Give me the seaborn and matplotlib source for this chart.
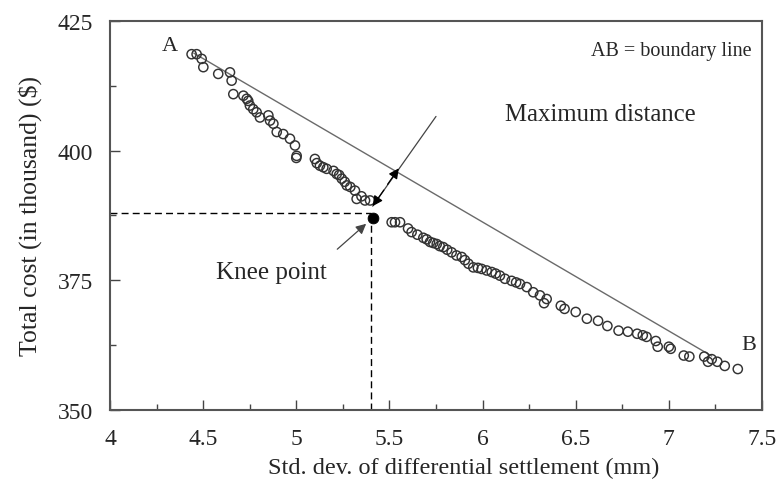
import matplotlib
matplotlib.use("Agg")
import matplotlib.pyplot as plt
import seaborn as sns
import pandas as pd
from matplotlib.ticker import MultipleLocator

# ---- data ----
std_dev = [
    4.438, 4.465, 4.492, 4.501, 4.581, 4.644, 4.653, 4.662, 4.716, 4.734,
    4.742, 4.751, 4.769, 4.787, 4.805, 4.850, 4.859, 4.877, 4.895, 4.930,
    4.966, 4.993, 5.002, 5.000,
    5.100, 5.110, 5.127, 5.145, 5.163, 5.200, 5.217, 5.230, 5.244, 5.260,
    5.271, 5.290, 5.315, 5.324, 5.350, 5.369, 5.396,
    5.512, 5.530, 5.557, 5.600, 5.619, 5.650, 5.682, 5.700, 5.718, 5.735,
    5.754, 5.770, 5.789, 5.810, 5.834, 5.860, 5.888, 5.905, 5.924, 5.950,
    5.975, 5.995, 6.022, 6.049, 6.070, 6.093, 6.120, 6.156, 6.180, 6.201,
    6.237, 6.272, 6.308, 6.330, 6.344,
    6.420, 6.440, 6.500, 6.560, 6.620, 6.670, 6.730, 6.780, 6.830, 6.860,
    6.880, 6.930, 6.940, 7.000, 7.010, 7.080, 7.110, 7.190, 7.210, 7.230,
    7.260, 7.300, 7.370,
]
total_cost = [
    418.6, 418.6, 417.7, 416.1, 414.8, 415.1, 413.5, 410.9, 410.6, 410.0,
    409.6, 408.7, 408.0, 407.4, 406.4, 406.8, 405.8, 405.2, 403.6, 403.2,
    402.3, 401.0, 399.0, 398.6,
    398.4, 397.6, 397.1, 396.8, 396.5, 396.1, 395.5, 395.3, 394.6, 394.0,
    393.3, 393.0, 392.3, 390.7, 391.2, 390.4, 390.4,
    386.2, 386.2, 386.2, 385.0, 384.3, 383.8, 383.2, 382.9, 382.4, 382.2,
    382.0, 381.6, 381.4, 380.9, 380.4, 379.8, 379.5, 378.9, 378.2, 377.5,
    377.4, 377.2, 376.9, 376.6, 376.3, 375.9, 375.3, 374.9, 374.6, 374.3,
    373.7, 372.7, 372.1, 370.6, 371.4,
    370.1, 369.5, 368.9, 367.6, 367.2, 366.2, 365.3, 365.1, 364.7, 364.4,
    364.1, 363.3, 362.2, 362.2, 361.8, 360.5, 360.3, 360.3, 359.3, 359.8,
    359.3, 358.5, 357.9,
]
knee_x = [5.41]
knee_y = [387.0]
boundary_x = [4.45, 7.23]
boundary_y = [418.8, 360.4]
x_ticks = [4, 4.5, 5, 5.5, 6, 6.5, 7, 7.5]
x_tick_labels = ["4", "4.5", "5", "5.5", "6", "6.5", "7", "7.5"]
y_ticks = [350, 375, 400, 425]

df = pd.DataFrame({"std": std_dev, "cost": total_cost})

sns.set_style("ticks")
plt.rcParams["font.family"] = ["Liberation Serif", "DejaVu Serif"]

fig = plt.figure(figsize=(7.78, 4.85), dpi=100)
ax = fig.add_axes([110 / 778, 1 - 411 / 485, 652 / 778, 389 / 485])

# boundary line
sns.lineplot(x=boundary_x, y=boundary_y, ax=ax, color="#6a6a6a", linewidth=1.0)

# pareto points
sns.scatterplot(data=df, x="std", y="cost", ax=ax, marker="o", s=44,
                facecolor="none", edgecolor="#333333", linewidth=1.05, zorder=3)
# knee point
sns.scatterplot(x=knee_x, y=knee_y, ax=ax, marker="o", s=60, color="black",
                edgecolor="black", zorder=4)

# dashed guides
kx, ky = knee_x[0] - 0.01, knee_y[0] + 1.0
ax.plot([4.0, kx], [ky, ky], linestyle=(0, (5, 3)), color="black", linewidth=1.0)
ax.plot([kx, kx], [350, ky], linestyle=(0, (5, 3)), color="black", linewidth=1.0)

ax.set_xlim(4, 7.5)
ax.set_ylim(350, 425)
ax.set_xticks(x_ticks)
ax.set_xticklabels(x_tick_labels)
ax.set_yticks(y_ticks)
ax.xaxis.set_minor_locator(MultipleLocator(0.25))
ax.yaxis.set_minor_locator(MultipleLocator(12.5))
ax.tick_params(axis="both", which="major", direction="in", length=7,
               width=1.0, color="#444444", labelsize=17)
ax.tick_params(axis="y", which="major", pad=12)
ax.tick_params(axis="x", which="major", pad=13)
ax.tick_params(axis="both", which="minor", direction="in", length=4,
               width=1.0, color="#444444")
for sp in ax.spines.values():
    sp.set_color("#555555")
    sp.set_linewidth(1.5)

ax.set_xlabel("Std. dev. of differential settlement (mm)", fontsize=17.5)
ax.xaxis.set_label_coords(0.543, -0.12)
ax.set_ylabel("Total cost (in thousand) ($)", fontsize=18.5)
ax.yaxis.set_label_coords(-0.104, 0.5)

# annotations
ax.text(4.32, 420.3, "A", fontsize=16, ha="center", va="center")
ax.text(7.43, 362.7, "B", fontsize=16, ha="center", va="center")
ax.text(7.445, 419.4, "AB = boundary line", fontsize=14.5, ha="right", va="center")
ax.text(6.12, 407.0, "Maximum distance", fontsize=17.8, ha="left", va="center")
ax.text(4.864, 376.6, "Knee point", fontsize=18, ha="center", va="center")

# maximum distance double arrow
ax.plot([5.41, 5.75], [389.3, 406.6], color="#444444", linewidth=0.9)
ax.annotate("", xy=(5.41, 389.3), xytext=(5.47, 392.4),
            arrowprops=dict(arrowstyle="-|>", color="black", lw=0.9,
                            mutation_scale=15, shrinkA=0, shrinkB=0))
ax.annotate("", xy=(5.55, 396.6), xytext=(5.49, 393.5),
            arrowprops=dict(arrowstyle="-|>", color="black", lw=0.9,
                            mutation_scale=15, shrinkA=0, shrinkB=0))
# knee point arrow
ax.annotate("", xy=(5.375, 385.9), xytext=(5.22, 381.0),
            arrowprops=dict(arrowstyle="-|>", color="#444444", lw=0.9,
                            mutation_scale=15, shrinkA=0, shrinkB=0))

fig.savefig("out.png", dpi=100)
